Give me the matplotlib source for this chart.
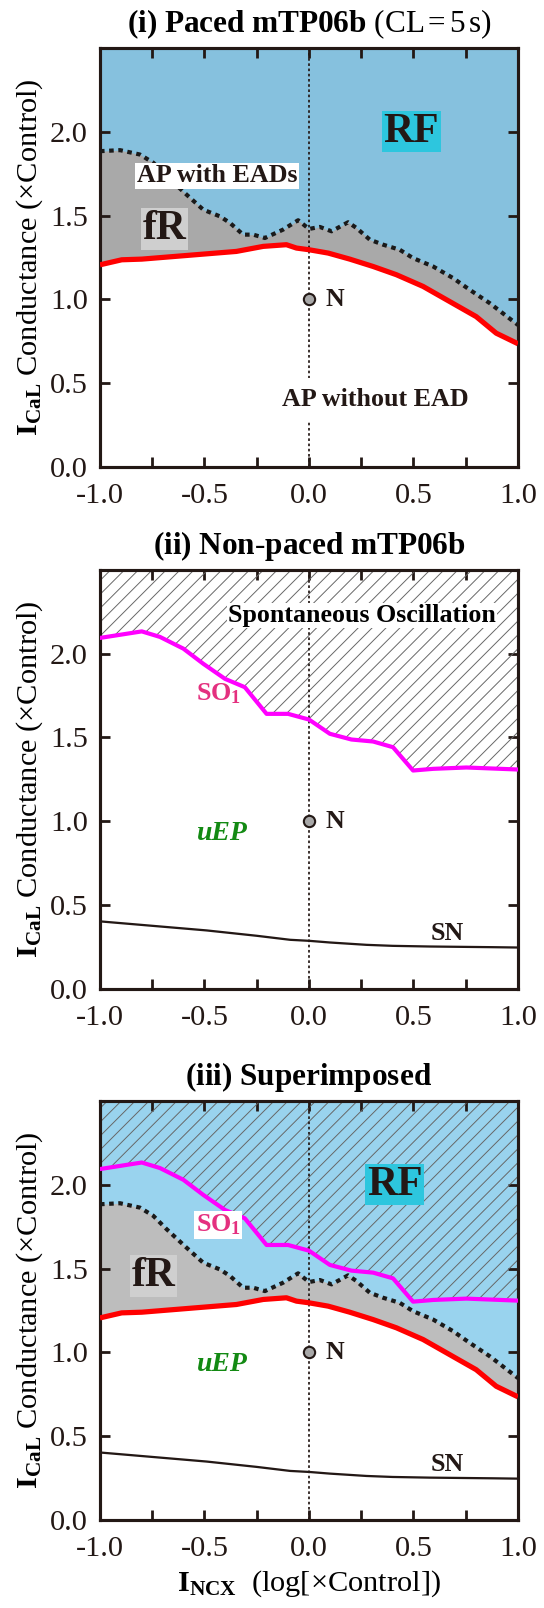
import matplotlib
matplotlib.use('Agg')
import matplotlib.pyplot as plt
from matplotlib.ticker import MultipleLocator, FixedLocator

plt.rcParams['font.family'] = ['Liberation Serif', 'DejaVu Serif']
plt.rcParams['mathtext.fontset'] = 'custom'
plt.rcParams['mathtext.rm'] = 'Liberation Serif'
plt.rcParams['mathtext.bf'] = 'Liberation Serif:bold'
plt.rcParams['mathtext.it'] = 'Liberation Serif:italic'
plt.rcParams['hatch.linewidth'] = 0.55
plt.rcParams['hatch.color'] = '#666666'

# boundaries: x = log10(NCX scale), y = ICaL scale
ncx_red = [-1.0, -0.896, -0.80, -0.347, -0.219, -0.108, -0.06, 0.0, 0.092, 0.195,
           0.307, 0.418, 0.546, 0.673, 0.80, 0.896, 1.0]
cal_red = [1.206, 1.236, 1.24, 1.286, 1.316, 1.326, 1.306, 1.296, 1.276, 1.240,
           1.196, 1.147, 1.077, 0.987, 0.897, 0.798, 0.735]

ncx_ead = [-1.0, -0.904, -0.809, -0.745, -0.681, -0.586, -0.506, -0.426, -0.378, -0.315,
           -0.267, -0.211, -0.124, -0.052, 0.0, 0.052, 0.108, 0.187, 0.227, 0.291,
           0.355, 0.434, 0.498, 0.594, 0.689, 0.769, 0.865, 1.0]
cal_ead = [1.884, 1.890, 1.864, 1.815, 1.735, 1.625, 1.535, 1.495, 1.456, 1.386,
           1.386, 1.366, 1.416, 1.472, 1.42, 1.432, 1.406, 1.460, 1.426, 1.356,
           1.326, 1.296, 1.246, 1.196, 1.127, 1.057, 0.977, 0.847]

ncx_so1 = [-1.0, -0.80, -0.713, -0.601, -0.506, -0.402, -0.307, -0.203, -0.10, 0.0,
           0.10, 0.203, 0.307, 0.402, 0.498, 0.594, 0.753, 1.0]
cal_so1 = [2.094, 2.133, 2.10, 2.03, 1.94, 1.85, 1.80, 1.641, 1.641, 1.607,
           1.522, 1.488, 1.476, 1.442, 1.303, 1.313, 1.321, 1.309]

ncx_sn = [-1.0, -0.49, -0.25, -0.09, 0.0, 0.10, 0.275, 0.40, 0.578, 0.88, 1.0]
cal_sn = [0.403, 0.349, 0.317, 0.293, 0.287, 0.277, 0.263, 0.257, 0.253, 0.249, 0.247]

control = (0.0, 1.0)
y_ticks = [0.0, 0.5, 1.0, 1.5, 2.0]

titles = [r'$\mathbf{(i)\ Paced\ mTP06b}$ (CL$\,$=$\,$5$\,$s)',
          r'$\mathbf{(ii)\ Non}$-$\mathbf{paced\ mTP06b}$',
          r'$\mathbf{(iii)\ Superimposed}$']

YTOP = 2.5


def setup_axes(ax, title):
    ax.set_xlim(-1, 1)
    ax.set_ylim(0, YTOP)
    ax.xaxis.set_major_locator(MultipleLocator(0.5))
    ax.xaxis.set_minor_locator(MultipleLocator(0.25))
    ax.yaxis.set_major_locator(FixedLocator(y_ticks))
    ax.xaxis.set_major_formatter(lambda v, p: f'{v:.1f}')
    ax.yaxis.set_major_formatter(lambda v, p: f'{v:.1f}')
    ax.tick_params(which='both', direction='in', top=True, right=True,
                   length=6, width=1.6, labelsize=17.5, colors='#231815')
    ax.tick_params(axis='x', pad=9)
    ax.tick_params(axis='y', pad=7)
    for s in ax.spines.values():
        s.set_linewidth(1.8)
        s.set_color('#231815')
    ax.set_ylabel(r'$\mathbf{I}_{\mathbf{CaL}}$ Conductance (×Control)', fontsize=17.5, labelpad=3)
    ax.set_title(title, fontsize=18, pad=9)


def draw_paced(ax, blue, grey, rf_xy, fr_xy):
    ax.fill_between(ncx_red, cal_red, YTOP, color=grey, lw=0, zorder=1)
    ax.fill_between(ncx_ead, cal_ead, YTOP, color=blue, lw=0, zorder=1.5)
    ax.plot(ncx_red, cal_red, color='#ff0000', lw=3, zorder=4, solid_capstyle='butt')
    ax.plot(ncx_ead, cal_ead, color='#1a1a1a', lw=2.4, ls=(0, (1.1, 1.1)), zorder=4)
    ax.text(*rf_xy, 'RF', fontsize=24, fontweight='bold', ha='center', va='center',
            color='#231815', zorder=6,
            bbox=dict(boxstyle='square,pad=0.04', fc='#2dc6de', ec='none'))
    ax.text(*fr_xy, 'fR', fontsize=24, fontweight='bold', ha='center', va='center',
            color='#231815', zorder=6,
            bbox=dict(boxstyle='square,pad=0.04', fc='#cfcfcf', ec='none'))


def draw_nonpaced(ax, white_box):
    ax.fill_between(ncx_so1, cal_so1, YTOP, facecolor='none', edgecolor='#666666',
                    hatch='///', lw=0, zorder=2)
    ax.plot(ncx_so1, cal_so1, color='#ff00ff', lw=2.4, zorder=4)
    ax.plot(ncx_sn, cal_sn, color='#231815', lw=1.3, zorder=4)
    bb = dict(boxstyle='square,pad=0.05', fc='white', ec='none') if white_box else None
    ax.text(-0.435, 1.76, r'SO$_{\mathbf{1}}$', fontsize=15, fontweight='bold',
            color='#e4307f', ha='center', va='center', zorder=6, bbox=bb)
    ax.text(-0.416, 0.93, 'uEP', fontsize=16, fontweight='bold', fontstyle='italic',
            color='#138a13', ha='center', va='center', zorder=6)
    ax.text(0.66, 0.33, 'SN', fontsize=15, fontweight='bold', color='#231815',
            ha='center', va='center', zorder=6)


def draw_control(ax):
    ax.axvline(0, color='#231815', lw=1.0, ls=(0, (1.5, 1.5)), zorder=3)
    ax.plot(*control, 'o', ms=6.5, mfc='#a8a8a8', mec='#231815', mew=1.2, zorder=7)
    ax.text(0.08, 1.0, 'N', fontsize=15, fontweight='bold', color='#231815',
            ha='left', va='center', zorder=6)


fig = plt.figure(figsize=(544 / 125, 1608 / 125), dpi=125)
ax1 = fig.add_axes([0.1838, 0.7096, 0.7684, 0.2606])
ax2 = fig.add_axes([0.1838, 0.3850, 0.7684, 0.2606])
ax3 = fig.add_axes([0.1838, 0.0547, 0.7684, 0.2606])

# (i) paced
setup_axes(ax1, titles[0])
draw_paced(ax1, '#86c1de', '#a9a9a9', (0.49, 2.0), (-0.69, 1.42))
draw_control(ax1)
ax1.text(-0.44, 1.737, 'AP with EADs', fontsize=15, fontweight='bold', color='#231815',
         ha='center', va='center', zorder=6,
         bbox=dict(boxstyle='square,pad=0.05', fc='white', ec='none'))
ax1.text(0.316, 0.40, 'AP without EAD', fontsize=15, fontweight='bold', color='#231815',
         ha='center', va='center', zorder=6,
         bbox=dict(boxstyle='square,pad=0.4', fc='white', ec='none'))

# (ii) non-paced
setup_axes(ax2, titles[1])
draw_nonpaced(ax2, False)
draw_control(ax2)
ax2.text(0.254, 2.228, 'Spontaneous Oscillation', fontsize=15, fontweight='bold',
         color='black', ha='center', va='center', zorder=6,
         bbox=dict(boxstyle='square,pad=0.05', fc='white', ec='none'))

# (iii) superimposed
setup_axes(ax3, titles[2])
draw_paced(ax3, '#99d3ee', '#bdbdbd', (0.41, 2.0), (-0.745, 1.455))
draw_nonpaced(ax3, True)
draw_control(ax3)
ax3.set_xlabel(r'$\mathbf{I}_{\mathbf{NCX}}$  (log[×Control])', fontsize=17.5, labelpad=4)

fig.savefig('out.png', dpi=125)
plt.close(fig)
